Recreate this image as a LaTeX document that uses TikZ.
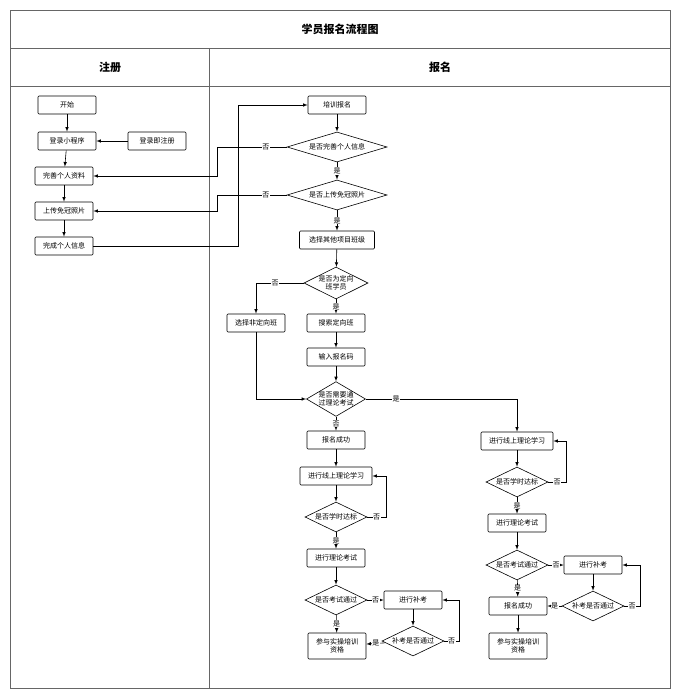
\documentclass[tikz,border=0pt]{standalone}
\usepackage{fontspec}
\setmainfont{Noto Sans CJK SC}
\usetikzlibrary{shapes.geometric,positioning}
\begin{document}
\begin{tikzpicture}[x=1pt,y=-1pt,line width=0.6pt,>=latex,
                    box/.style = {draw, rounded corners=1pt, minimum width=58pt, minimum height=18pt, inner sep=1pt, font=\fontsize{7}{8}\selectfont, align=center},
                    dec/.style = {diamond, draw, aspect=2, inner sep=0pt, minimum width=62pt, minimum height=30pt, font=\fontsize{7}{8}\selectfont, align=center},
                    wdec/.style = {dec, aspect=3.3, minimum width=100pt},
                    lab/.style = {font=\fontsize{7}{8}\selectfont, fill=white, inner sep=0.5pt}]

\useasboundingbox (0,0) rectangle (682,698);
\draw[gray!80!black] (10,10) rectangle (670,688);
\draw[gray!80!black] (10,48) -- (670,48);
\draw[gray!80!black] (10,86) -- (670,86);
\draw[gray!80!black] (209,48) -- (209,688);
\node (title) at (340,29) {\fontsize{11}{12}\selectfont\bfseries 学员报名流程图};
\node (colA) at (110,67) {\fontsize{11}{12}\selectfont\bfseries 注册};
\node (colB) at (440,67) {\fontsize{11}{12}\selectfont\bfseries 报名};

% registration
\node [box] (start) at (67,105) {开始};
\node [box] (login) at (67,141) {登录小程序};
\node [box] (reg) at (157,141) {登录即注册};
\node [box] (info) at (64,176) {完善个人资料};
\node [box] (photo) at (64,211) {上传免冠照片};
\node [box] (done) at (64,246) {完成个人信息};

% sign-up
\node [box] (sign) at (337,105) {培训报名};
\node [wdec] (q1) at (337,147) {是否完善个人信息};
\node [wdec] (q2) at (337,195) {是否上传免冠照片};
\node [box, minimum width=75pt] (other) at (337,240) {选择其他项目班级};
\node [dec] (q3) at (336,283) {是否为定向\\班学员};
\node [box] (free) at (256,323) {选择非定向班};
\node [box] (search) at (336,323) {搜索定向班};
\node [box] (code) at (336,357) {输入报名码};
\node [dec, minimum width=56pt, minimum height=32pt, aspect=1.7] (q4) at (336,399) {是否需要通\\过理论考试};

% left branch
\node [box] (ok1) at (336,440) {报名成功};
\node [box, minimum width=72pt] (study1) at (336,476) {进行线上理论学习};
\node [dec] (hrs1) at (336,517) {是否学时达标};
\node [box] (exam1) at (336,558) {进行理论考试};
\node [dec] (pass1) at (336,600) {是否考试通过};
\node [box] (re1) at (413,600) {进行补考};
\node [dec] (repass1) at (413,641) {补考是否通过};
\node [box, minimum height=26pt] (prac1) at (337,646) {参与实操培训\\资格};

% right branch
\node [box, minimum width=72pt] (study2) at (517,441) {进行线上理论学习};
\node [dec] (hrs2) at (517,482) {是否学时达标};
\node [box] (exam2) at (517,523) {进行理论考试};
\node [dec] (pass2) at (517,565) {是否考试通过};
\node [box] (re2) at (593,565) {进行补考};
\node [dec] (repass2) at (593,606) {补考是否通过};
\node [box] (ok2) at (518,606) {报名成功};
\node [box, minimum height=26pt] (prac2) at (518,646) {参与实操培训\\资格};

\draw[->] (start) -- (login);
\draw[->] (reg) -- (login);
\draw[->] (login) -- (info);
\draw[->] (info) -- (photo);
\draw[->] (photo) -- (done);
\draw[->] (done) -| (238,105) -- (sign);
\draw[->] (sign) -- (q1);
\draw[->] (q1) -- node[lab]{是} (q2);
\draw[->] (q2) -- node[lab]{是} (other);
\draw[->] (q1.west) -- node[lab,pos=0.3]{否} (217,147) |- (info);
\draw[->] (q2.west) -- node[lab,pos=0.3]{否} (217,195) |- (photo);
\draw[->] (other) -- (q3);
\draw[->] (q3) -- node[lab]{是} (search);
\draw[->] (q3.west) -| node[lab,pos=0.3]{否} (free);
\draw[->] (search) -- (code);
\draw[->] (code) -- (q4);
\draw[->] (free) |- (q4.west);
\draw[->] (q4.east) -| node[lab,pos=0.1]{是} (study2);
\draw[->] (q4) -- node[lab]{否} (ok1);

\draw[->] (ok1) -- (study1);
\draw[->] (study1) -- (hrs1);
\draw[->] (hrs1.east) -- node[lab]{否} (386,517) |- (study1);
\draw[->] (hrs1) -- node[lab]{是} (exam1);
\draw[->] (exam1) -- (pass1);
\draw[->] (pass1) -- node[lab]{否} (re1);
\draw[->] (pass1) -- node[lab]{是} (prac1);
\draw[->] (re1) -- (repass1);
\draw[->] (repass1) -- node[lab]{是} (prac1);
\draw[->] (repass1.east) -- node[lab]{否} (459,641) |- (re1);

\draw[->] (study2) -- (hrs2);
\draw[->] (hrs2.east) -- node[lab]{否} (566,482) |- (study2);
\draw[->] (hrs2) -- node[lab]{是} (exam2);
\draw[->] (exam2) -- (pass2);
\draw[->] (pass2) -- node[lab]{否} (re2);
\draw[->] (pass2) -- node[lab]{是} (ok2);
\draw[->] (re2) -- (repass2);
\draw[->] (repass2) -- node[lab]{是} (ok2);
\draw[->] (repass2.east) -- node[lab]{否} (640,606) |- (re2);
\draw[->] (ok2) -- (prac2);
\end{tikzpicture}
\end{document}
